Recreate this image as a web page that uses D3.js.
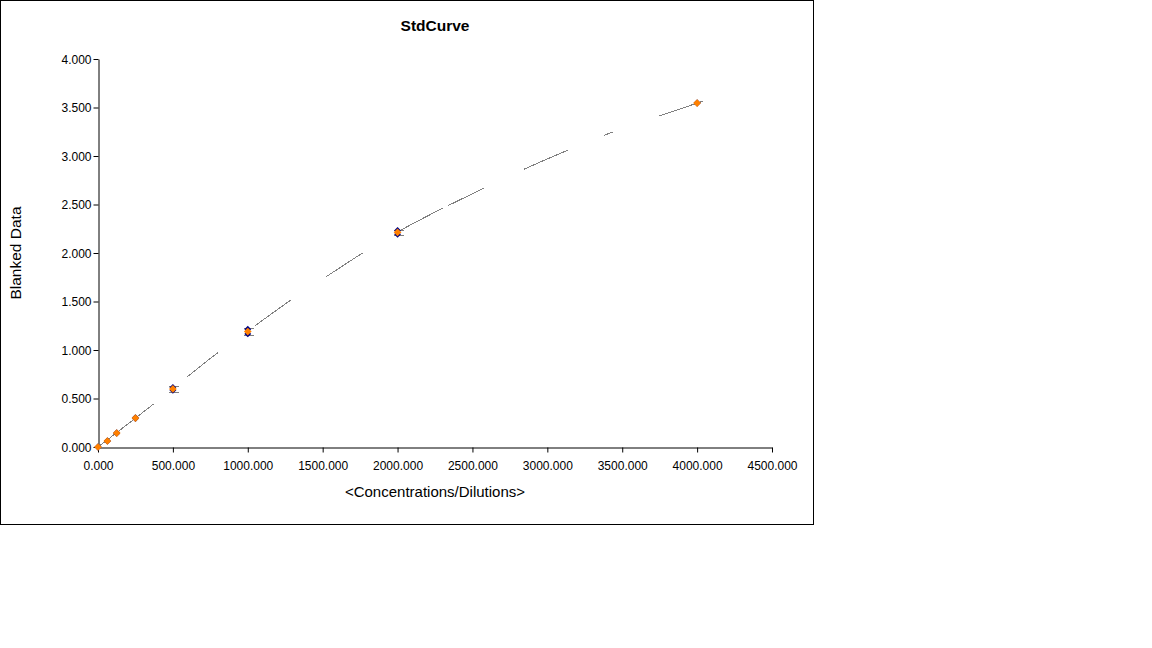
<!DOCTYPE html>
<html>
<head>
<meta charset="utf-8">
<script src="https://cdn.jsdelivr.net/npm/d3@7"></script>
<style>
  body { margin: 0; background: #fff; }
  svg text { font-family: Arial, "Liberation Sans", sans-serif; fill: #000; }
</style>
</head>
<body>
<div id="chart"></div>
<script>
// --- Data ---
const concentrations = [0, 62.5, 125, 250, 500, 1000, 2000, 4000];
const replicateA = [0.000, 0.062, 0.148, 0.303, 0.614, 1.214, 2.233, 3.546];
const replicateB = [0.000, 0.062, 0.140, 0.293, 0.584, 1.166, 2.193, 3.546];
const meanValues = [0.000, 0.062, 0.144, 0.298, 0.599, 1.190, 2.213, 3.546];
const sdValues   = [0.000, 0.000, 0.004, 0.006, 0.031, 0.036, 0.027, 0.000];

// fitted curve, points
const curveX = [0, 374, 594, 801, 1048, 1282, 1522, 1763, 2016, 2303, 2577, 2844, 3138, 3379, 3439, 3746, 4039, 4193];
const curveY = [0, 0.443, 0.722, 0.979, 1.247, 1.515, 1.753, 2.000, 2.237, 2.464, 2.670, 2.866, 3.062, 3.216, 3.247, 3.412, 3.567, 3.640];

const xTicks = [0, 500, 1000, 1500, 2000, 2500, 3000, 3500, 4000, 4500];
const yTicks = [0, 0.5, 1, 1.5, 2, 2.5, 3, 3.5, 4];

// --- Layout ---
const width = 1152, height = 648;
const frame = { w: 813, h: 524 };
const plot = { left: 98, right: 772, top: 59, bottom: 447 };

const svg = d3.select("#chart").append("svg")
    .attr("width", width)
    .attr("height", height);

svg.append("rect")
    .attr("x", 0.5).attr("y", 0.5)
    .attr("width", frame.w).attr("height", frame.h)
    .attr("fill", "#fff").attr("stroke", "#000");

const x = d3.scaleLinear().domain([0, 4500]).range([plot.left, plot.right]);
const y = d3.scaleLinear().domain([0, 4]).range([plot.bottom, plot.top]);

// --- Axes ---
const xAxis = d3.axisBottom(x).tickValues(xTicks).tickSize(5).tickSizeOuter(0)
    .tickFormat(d3.format(".3f"));
const yAxis = d3.axisLeft(y).tickValues(yTicks).tickSize(5).tickSizeOuter(0)
    .tickFormat(d3.format(".3f"));

const gx = svg.append("g")
    .attr("transform", `translate(0,${plot.bottom + 0.5})`)
    .call(xAxis);
const gy = svg.append("g")
    .attr("transform", `translate(${plot.left + 0.5},0)`)
    .call(yAxis);

[gx, gy].forEach(g => {
    g.select(".domain").attr("stroke", "#000");
    g.selectAll(".tick line").attr("stroke", "#000");
    g.selectAll(".tick text").attr("font-size", 12)
        .attr("font-family", "Arial, 'Liberation Sans', sans-serif").attr("fill", "#000");
});
gx.selectAll(".tick text").attr("dy", "0.71em").attr("y", 14);
gy.selectAll(".tick text").attr("x", -7).attr("dy", "0.36em");

// --- Titles ---
svg.append("text")
    .attr("x", 435).attr("y", 31)
    .attr("text-anchor", "middle")
    .attr("font-size", 15.5).attr("font-weight", "bold")
    .text("StdCurve");

svg.append("text")
    .attr("x", 435).attr("y", 497)
    .attr("text-anchor", "middle")
    .attr("font-size", 15)
    .text("<Concentrations/Dilutions>");

svg.append("text")
    .attr("transform", "translate(21,253) rotate(-90)")
    .attr("text-anchor", "middle")
    .attr("font-size", 15.5)
    .text("Blanked Data");

// --- Fitted curve ---
const curvePts = curveX.map((cx, i) => [cx, curveY[i]]);
const line = d3.line()
    .x(d => x(d[0]))
    .y(d => y(d[1]))
    .curve(d3.curveBasis);

svg.append("path")
    .datum(curvePts)
    .attr("d", line)
    .attr("fill", "none")
    .attr("stroke", "#808080")
    .attr("stroke-width", 1)
    .attr("shape-rendering", "crispEdges")
    .attr("stroke-dasharray", "70,43,40,45,44,43,43,44,48,6,40,44,48,39,10,49,46,24,4,200");

// --- Error bars (caps) ---
const points = concentrations.map((c, i) => ({
    c, a: replicateA[i], b: replicateB[i], m: meanValues[i], sd: sdValues[i]
}));

const eb = svg.append("g").attr("stroke", "#808080").attr("stroke-width", 1)
    .attr("shape-rendering", "crispEdges");
points.filter(d => d.sd > 0.01).forEach(d => {
    const cx = Math.round(x(d.c)) + 0.5;
    [d.m + d.sd, d.m - d.sd].forEach(v => {
        const cy = Math.round(y(v)) + 0.5;
        eb.append("line").attr("x1", cx - 5).attr("x2", cx + 5)
            .attr("y1", cy).attr("y2", cy);
    });
});

// --- Replicates (navy diamonds) ---
const repDiamond = d3.symbol().type(d3.symbolDiamond2).size(30);
const reps = svg.append("g").attr("fill", "#000080");
points.forEach(d => {
    [d.a, d.b].forEach(v => {
        reps.append("path")
            .attr("transform", `translate(${x(d.c)},${y(v)})`)
            .attr("d", repDiamond);
    });
});

// --- Means (orange diamonds) ---
const diamond = d3.symbol().type(d3.symbolDiamond2).size(38);
svg.append("g").selectAll("path")
    .data(points)
    .join("path")
    .attr("transform", d => `translate(${x(d.c)},${y(d.m)})`)
    .attr("d", diamond)
    .attr("fill", "#FF8000");
</script>
</body>
</html>
